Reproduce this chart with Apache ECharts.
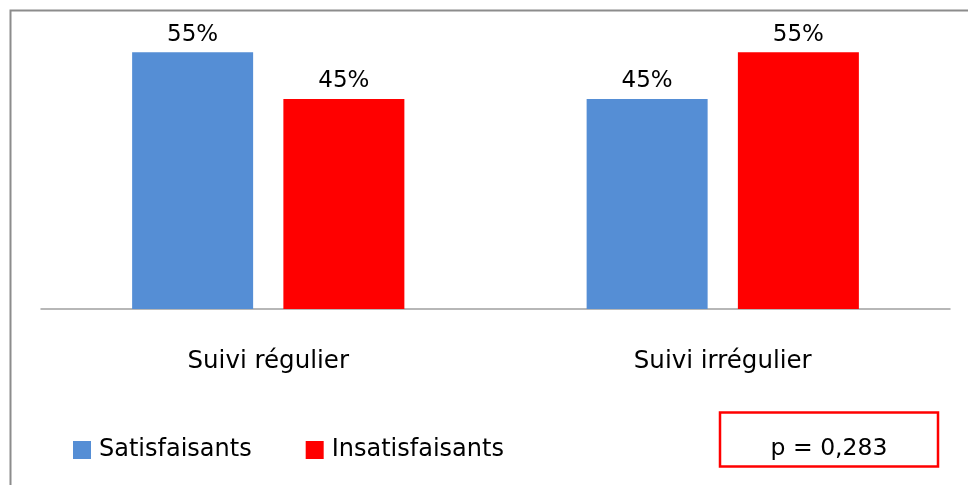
<!DOCTYPE html>
<html>
<head>
<meta charset="utf-8">
<script src="https://cdn.jsdelivr.net/npm/echarts@6/dist/echarts.min.js"></script>
<style>
  html, body { margin: 0; padding: 0; background: #fff; }
  #chart { width: 968px; height: 485px; }
</style>
</head>
<body>
<div id="chart"></div>
<script>
// Follow-up groups on the x axis
const categories = ['Suivi régulier', 'Suivi irrégulier'];
// Share of patients (%) per group
const satisfaisants = [55, 45];
const insatisfaisants = [45, 55];
const seriesNames = ['Satisfaisants', 'Insatisfaisants'];
const pValueText = 'p = 0,283';

const FONT = 'DejaVu Sans';
const chart = echarts.init(document.getElementById('chart'), null, { renderer: 'canvas' });

const valueLabel = {
  show: true,
  position: 'top',
  distance: 6,
  formatter: '{c}%',
  color: '#000',
  fontFamily: FONT,
  fontSize: 23
};

chart.setOption({
  animation: false,
  backgroundColor: '#fff',
  grid: { left: 41, right: 18, top: 29, bottom: 176 },
  xAxis: {
    type: 'category',
    data: categories,
    axisLine: { show: true, lineStyle: { color: '#a0a0a0', width: 1.5 } },
    axisTick: { show: false },
    axisLabel: { color: '#000', fontFamily: FONT, fontSize: 24.5, margin: 40 }
  },
  yAxis: {
    type: 'value',
    min: 0,
    max: 60,
    show: false,
    splitLine: { show: false }
  },
  legend: {
    data: seriesNames,
    left: 68,
    top: 433,
    icon: 'rect',
    itemWidth: 18,
    itemHeight: 18,
    itemGap: 54,
    textStyle: { color: '#000', fontFamily: FONT, fontSize: 24, padding: [0, 0, 10, 3] },
    formatter: name => name
  },
  series: [
    {
      name: seriesNames[0],
      type: 'bar',
      data: satisfaisants,
      barWidth: 121,
      barGap: '25%',
      itemStyle: { color: '#558ed5' },
      label: valueLabel
    },
    {
      name: seriesNames[1],
      type: 'bar',
      data: insatisfaisants,
      barWidth: 121,
      barGap: '25%',
      itemStyle: { color: '#ff0000' },
      label: valueLabel
    }
  ],
  graphic: [
    {
      type: 'rect',
      shape: { x: 10.5, y: 10.5, width: 1200, height: 1200 },
      style: { fill: 'none', stroke: '#8c8c8c', lineWidth: 2 },
      silent: true
    },
    {
      type: 'rect',
      shape: { x: 720, y: 412.5, width: 218, height: 54 },
      style: { fill: '#fff', stroke: '#ff0000', lineWidth: 2.5 },
      silent: true
    },
    {
      type: 'text',
      x: 829,
      y: 449,
      style: {
        text: pValueText,
        fill: '#000',
        font: '23.5px "DejaVu Sans"',
        textAlign: 'center',
        textVerticalAlign: 'middle'
      },
      silent: true
    }
  ]
});
</script>
</body>
</html>
